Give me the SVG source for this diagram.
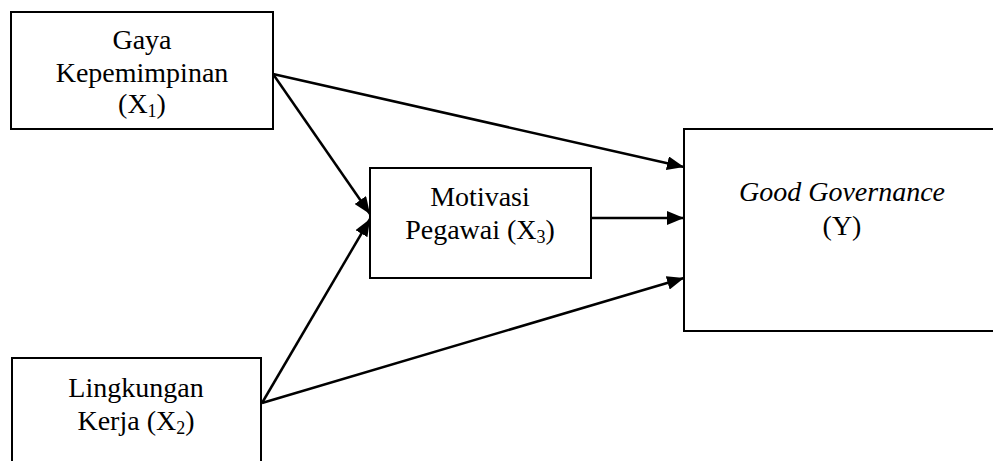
<svg xmlns="http://www.w3.org/2000/svg" width="993" height="461" viewBox="0 0 993 461">
<style>
.box{fill:#fff;stroke:#000;stroke-width:2}
.t{font-family:"Liberation Serif","Times New Roman",serif;font-size:28px;fill:#000;text-anchor:middle}
.sub{font-size:18px}
.c{stroke:#000;stroke-width:2.5;fill:none;marker-end:url(#ah)}
</style>
<defs>
<marker id="ah" markerUnits="userSpaceOnUse" markerWidth="18" markerHeight="14" refX="17" refY="7" orient="auto">
<path d="M0,0 L17,7 L0,14 Z" fill="#000"/>
</marker>
</defs>
<rect width="993" height="461" fill="#fff"/>
<g id="x1">
<rect class="box" x="11" y="12" width="262" height="117"/>
<text class="t" x="142" y="49">Gaya</text>
<text class="t" x="142" y="82">Kepemimpinan</text>
<text class="t" x="142" y="113">(X<tspan class="sub" dy="4">1</tspan><tspan dy="-4">)</tspan></text>
</g>
<g id="x3">
<rect class="box" x="370" y="168" width="221" height="110"/>
<text class="t" x="480" y="206">Motivasi</text>
<text class="t" x="480" y="239">Pegawai (X<tspan class="sub" dy="4">3</tspan><tspan dy="-4">)</tspan></text>
</g>
<g id="x2">
<rect class="box" x="12" y="358" width="249" height="110"/>
<text class="t" x="136" y="397">Lingkungan</text>
<text class="t" x="136" y="430">Kerja (X<tspan class="sub" dy="4">2</tspan><tspan dy="-4">)</tspan></text>
</g>
<g id="y">
<rect class="box" x="684" y="129" width="320" height="202"/>
<text class="t" x="842" y="201" font-style="italic">Good Governance</text>
<text class="t" x="842" y="235">(Y)</text>
</g>
<g id="connectors">
<line class="c" x1="273" y1="74" x2="684" y2="167"/>
<line class="c" x1="273" y1="74" x2="370" y2="214"/>
<line class="c" x1="262" y1="403" x2="370" y2="219"/>
<line class="c" x1="262" y1="403" x2="684" y2="278"/>
<line class="c" x1="591" y1="218" x2="684" y2="218"/>
</g>
</svg>
